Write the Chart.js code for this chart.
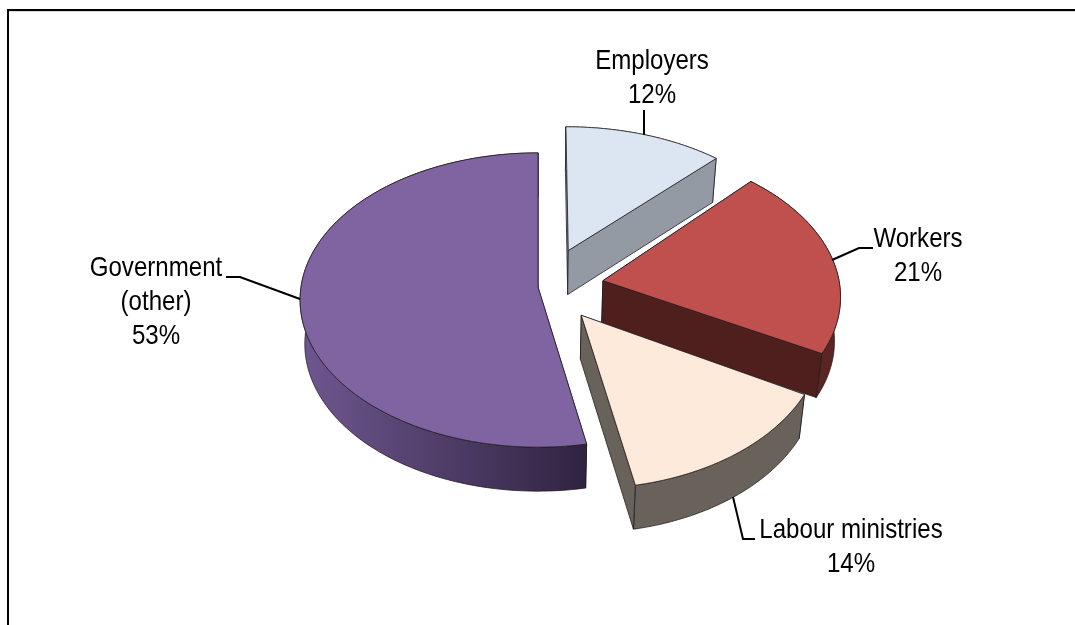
<!DOCTYPE html>
<html>
<head>
<meta charset="utf-8">
<script src="https://cdn.jsdelivr.net/npm/chart.js@4/dist/chart.umd.min.js"></script>
<style>html,body{margin:0;padding:0;background:#fff}canvas{display:block}</style>
</head>
<body>
<canvas id="pie" width="1075" height="625"></canvas>
<script>
// Shares of the tripartite membership, clockwise from twelve o'clock
const categories = ["Employers", "Workers", "Labour ministries", "Government (other)"];
const shares = [12, 21, 14, 53];
const explode = [68, 66, 62, 0];
const explodeSkewDeg = [5.5, 0, -7.3, 0];
const wedgeForeshorten = [0.96, 1, 1.04, 1];
const topColors = ["#dce6f2", "#c0504d", "#fdeada", "#8064a2"];
const edgeColors = ["#939aa3", "#4f1f1e", "#68625b", "#4f3d68"];

// Tilted view of the pie: vertical squash, perspective strength, slab thickness
const view = { squash: 0.616, persp: 0.0885, depth: 44, bottomScale: 0.98 };

// Text blocks and leader lines around the pie, same order as categories
const callouts = [
  { lines: ["Employers", "12%"], x: 652, y: 61, leader: [[644, 110], [644, 135]] },
  { lines: ["Workers", "21%"], x: 918, y: 239, leader: [[873, 248], [859, 248], [832, 260]] },
  { lines: ["Labour ministries", "14%"], x: 851, y: 530, leader: [[733, 497], [743, 539], [755, 539]] },
  { lines: ["Government", "(other)", "53%"], x: 156, y: 268, leader: [[226, 277], [240, 277], [300, 299]] }
];
const labelFont = '28px "Liberation Sans", sans-serif';
const labelNarrowing = 0.86;

function projector(el, index) {
  const R = el.outerRadius, cx = el.x, cy = el.y;
  const dir = (el.startAngle + el.endAngle) / 2 + explodeSkewDeg[index] * Math.PI / 180;
  const off = el.options.offset || 0;
  const ox = Math.cos(dir) * off, oy = Math.sin(dir) * off;
  const top = (angle, r) => {
    const u = (ox + Math.cos(angle) * r) / R;
    const v = (oy + Math.sin(angle) * r * wedgeForeshorten[index]) / R;
    const s = 1 / (1 - view.persp * v);
    return [cx + R * u * s, cy + R * view.squash * v * s];
  };
  const bottom = (p) => [cx + (p[0] - cx) * view.bottomScale, p[1] + view.depth];
  return { top, bottom, R };
}

function tracePolygon(ctx, pts) {
  ctx.beginPath();
  pts.forEach((p, i) => i ? ctx.lineTo(p[0], p[1]) : ctx.moveTo(p[0], p[1]));
  ctx.closePath();
}

function drawSlice(ctx, el, index) {
  const { top, bottom, R } = projector(el, index);
  const rim = [];
  for (let i = 0; i <= 120; i++) {
    rim.push(top(el.startAngle + (el.endAngle - el.startAngle) * i / 120, R));
  }
  const apex = top(0, 0);
  ctx.lineWidth = 1;
  ctx.lineJoin = "round";
  ctx.strokeStyle = "rgba(30,25,30,0.75)";

  const cutFace = (p) => {
    tracePolygon(ctx, [apex, p, bottom(p), bottom(apex)]);
    ctx.fillStyle = edgeColors[index];
    ctx.fill();
    ctx.stroke();
  };

  // Leading cut face sits behind the wall
  cutFace(rim[0]);

  // Curved outer wall, darkening toward the front right on the large slice
  let wall = edgeColors[index];
  if (index === 3) {
    wall = ctx.createLinearGradient(300, 0, 590, 0);
    wall.addColorStop(0, "#6f5790");
    wall.addColorStop(0.5, "#4f3d68");
    wall.addColorStop(1, "#2f2340");
  } else if (index === 1) {
    wall = "#5a2523";
  }
  tracePolygon(ctx, rim.concat(rim.map(bottom).reverse()));
  ctx.fillStyle = wall;
  ctx.fill();
  ctx.stroke();

  // Trailing cut face overlaps the wall
  cutFace(rim[rim.length - 1]);

  // Upper face
  tracePolygon(ctx, [apex].concat(rim));
  ctx.fillStyle = topColors[index];
  ctx.fill();
  ctx.stroke();
}

const tiltedPie = {
  id: "tiltedPie",
  beforeDraw(chart) {
    const ctx = chart.ctx;
    ctx.save();
    ctx.fillStyle = "#ffffff";
    ctx.fillRect(0, 0, chart.width, chart.height);
    ctx.fillStyle = "#d8d8d8";
    ctx.fillRect(9, 11, chart.width - 9, 1);
    ctx.fillStyle = "#000000";
    ctx.fillRect(7, 9, chart.width - 7, 2);
    ctx.fillRect(7, 9, 2, chart.height - 9);
    ctx.restore();
  },
  beforeDatasetDraw(chart, args) {
    const ctx = chart.ctx;
    const arcs = args.meta.data;
    ctx.save();
    // Back slices first so the front ones overlap them
    [0, 1, 3, 2].forEach((i) => drawSlice(ctx, arcs[i], i));
    ctx.restore();
    return false;
  },
  afterDatasetsDraw(chart) {
    const ctx = chart.ctx;
    ctx.save();
    ctx.strokeStyle = "#000000";
    ctx.lineWidth = 2;
    ctx.fillStyle = "#000000";
    ctx.font = labelFont;
    ctx.textAlign = "center";
    ctx.textBaseline = "middle";
    callouts.forEach((c) => {
      ctx.beginPath();
      c.leader.forEach((p, i) => i ? ctx.lineTo(p[0], p[1]) : ctx.moveTo(p[0], p[1]));
      ctx.stroke();
      c.lines.forEach((line, i) => {
        ctx.save();
        ctx.translate(c.x, c.y + i * 34);
        ctx.scale(labelNarrowing, 1);
        ctx.fillText(line, 0, 0);
        ctx.restore();
      });
    });
    ctx.restore();
  }
};

new Chart(document.getElementById("pie"), {
  type: "pie",
  data: {
    labels: categories,
    datasets: [{
      data: shares,
      offset: explode,
      backgroundColor: topColors,
      borderWidth: 0,
      hoverOffset: 0
    }]
  },
  options: {
    responsive: false,
    animation: false,
    radius: 237,
    layout: { padding: { left: 1, top: 0, right: 0, bottom: 51 } },
    plugins: { legend: { display: false }, tooltip: { enabled: false } }
  },
  plugins: [tiltedPie]
});
</script>
</body>
</html>
